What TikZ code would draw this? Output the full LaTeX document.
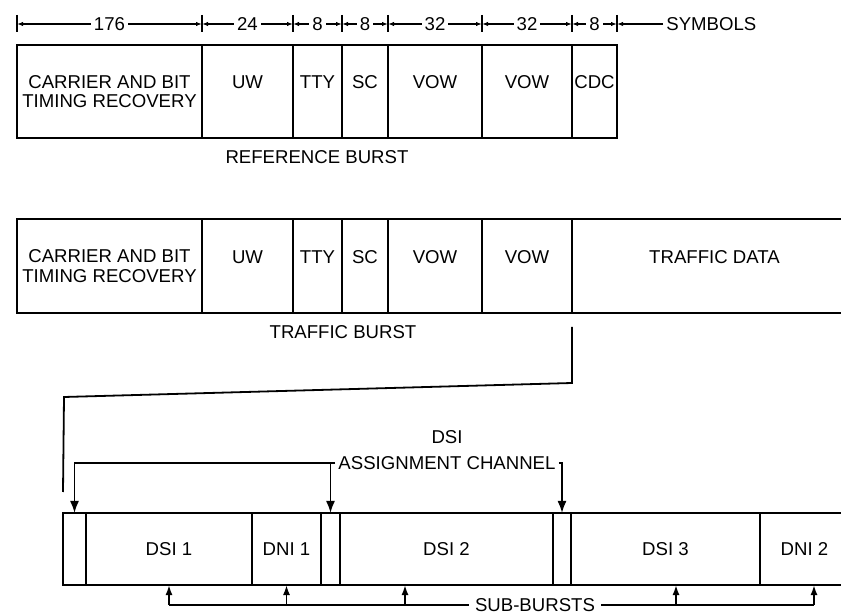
\documentclass[tikz,border=0pt]{standalone}
\usepackage{fontspec}
\setmainfont{Liberation Sans}
\usetikzlibrary{arrows.meta}
\newcommand{\burstfont}{\fontsize{9.3}{9.8}\selectfont}
\tikzset{
  field/.style={draw, line width=1pt, inner sep=0pt, outer sep=0pt,
                anchor=north west, align=center, font=\burstfont},
  reffield/.style={field, minimum height=46.5pt},
  trffield/.style={field, minimum height=47pt},
  subfield/.style={field, minimum height=36pt},
  toptext/.style={text height=6.6pt, text depth=9.3pt},
  openfield/.style={draw=none},
  tick/.style={line width=0.7pt},
  dimline/.style={line width=0.7pt,
                  {Latex[length=3pt,width=2.2pt]}-{Latex[length=3pt,width=2.2pt]}},
  lbl/.style={font=\burstfont, inner sep=1.5pt},
  conn/.style={line width=0.9pt},
  pointer/.style={conn, -{Latex[length=6pt,width=4.5pt]}},
  subptr/.style={conn, -{Latex[length=5pt,width=3.5pt]}},
}

\begin{document}
\begin{tikzpicture}[x=0.5pt, y=-0.5pt]
    \useasboundingbox (0,0) rectangle (841,614);

    % symbol counts
    \foreach \x [count=\i from 0] in {17,202,293,342,388,482,572,617} {
      \coordinate (d\i) at (\x,24);
      \draw[tick] (\x,15) -- (\x,32);
    }
    \draw[dimline] (d0) -- (d1) node[lbl, midway, fill=white] {176};
    \draw[dimline] (d1) -- (d2) node[lbl, midway, fill=white] {24};
    \draw[dimline] (d2) -- (d3) node[lbl, midway, fill=white] {8};
    \draw[dimline] (d3) -- (d4) node[lbl, midway, fill=white] {8};
    \draw[dimline] (d4) -- (d5) node[lbl, midway, fill=white] {32};
    \draw[dimline] (d5) -- (d6) node[lbl, midway, fill=white] {32};
    \draw[dimline] (d6) -- (d7) node[lbl, midway, fill=white] {8};
    \node[lbl, anchor=west] (sym) at (663,24) {SYMBOLS};
    \draw[line width=0.7pt, -{Latex[length=3pt,width=2.2pt]}] (sym.west) -- (d7);

    % reference burst
    \node[reffield, minimum width=92.5pt] (rcar) at (17,45) {CARRIER AND BIT\\TIMING RECOVERY};
    \node[reffield, toptext, minimum width=45.5pt] (ruw) at (rcar.north east) {UW};
    \node[reffield, toptext, minimum width=24.5pt] (rtty) at (ruw.north east) {TTY};
    \node[reffield, toptext, minimum width=23pt] (rsc) at (rtty.north east) {SC};
    \node[reffield, toptext, minimum width=47pt] (rvow) at (rsc.north east) {VOW};
    \node[reffield, toptext, minimum width=45pt] (rvowb) at (rvow.north east) {VOW};
    \node[reffield, toptext, minimum width=22.5pt] (rcdc) at (rvowb.north east) {CDC};
    \node[lbl] (refname) at (317,157) {REFERENCE BURST};

    % traffic burst
    \node[trffield, minimum width=92.5pt] (tcar) at (17,219) {CARRIER AND BIT\\TIMING RECOVERY};
    \node[trffield, toptext, minimum width=45.5pt] (tuw) at (tcar.north east) {UW};
    \node[trffield, toptext, minimum width=24.5pt] (ttty) at (tuw.north east) {TTY};
    \node[trffield, toptext, minimum width=23pt] (tsc) at (ttty.north east) {SC};
    \node[trffield, toptext, minimum width=47pt] (tvow) at (tsc.north east) {VOW};
    \node[trffield, toptext, minimum width=45pt] (tvowb) at (tvow.north east) {VOW};
    \node[trffield, toptext, openfield, minimum width=134.5pt] (tdata) at (tvowb.north east) {\hspace*{8pt}TRAFFIC DATA};
    \draw[line width=1pt] (tdata.north west) -- (tdata.north east)
                          (tdata.south west) -- (tdata.south east);
    \node[lbl] (trfname) at (343,332) {TRAFFIC BURST};

    % expanded traffic data
    \node[subfield, minimum width=11.5pt] (slota) at (63,513) {};
    \node[subfield, minimum width=83pt] (dsia) at (slota.north east) {DSI 1};
    \node[subfield, minimum width=34.5pt] (dnia) at (dsia.north east) {DNI 1};
    \node[subfield, minimum width=9.5pt] (slotb) at (dnia.north east) {};
    \node[subfield, minimum width=106.5pt] (dsib) at (slotb.north east) {DSI 2};
    \node[subfield, minimum width=9pt] (slotc) at (dsib.north east) {};
    \node[subfield, minimum width=94.5pt] (dsic) at (slotc.north east) {DSI 3};
    \node[subfield, openfield, minimum width=40.5pt] (dnib) at (dsic.north east) {\hspace*{4pt}DNI 2};
    \draw[line width=1pt] (dnib.north west) -- (dnib.north east)
                          (dnib.south west) -- (dnib.south east);

    \coordinate (ja) at ([yshift=-7pt]tdata.south west);
    \coordinate (jb) at ([yshift=10.5pt]slota.north west);
    \draw[conn] (ja) -- (572,383) -- (64,397) -- (jb);

    % assignment channel
    \node[lbl] (asgn) at (447,463) {ASSIGNMENT CHANNEL};
    \node[lbl] (dsiname) at (447,437) {DSI};
    \draw[pointer] (asgn.west) -| (slota.north);
    \draw[pointer] (slotb.north |- asgn.west) -- (slotb.north);
    \draw[pointer] (asgn.east) -| (slotc.north);

    % sub-bursts
    \coordinate (s1) at (dsia.south);
    \coordinate (s2) at (dnia.south);
    \coordinate (s3) at ([xshift=32.5pt]dsib.south west);
    \coordinate (s4) at ([xshift=52.5pt]dsic.south west);
    \coordinate (s5) at ([xshift=27pt]dnib.south west);
    \node[lbl, inner xsep=3pt] (subb) at (535,605) {SUB-BURSTS};
    \draw[conn] (s1 |- subb) -- (subb.west) (subb.east) -- (s5 |- subb);
    \foreach \s in {s1,s2,s3,s4,s5}
      \draw[subptr] (\s |- subb) -- (\s);
\end{tikzpicture}
\end{document}
